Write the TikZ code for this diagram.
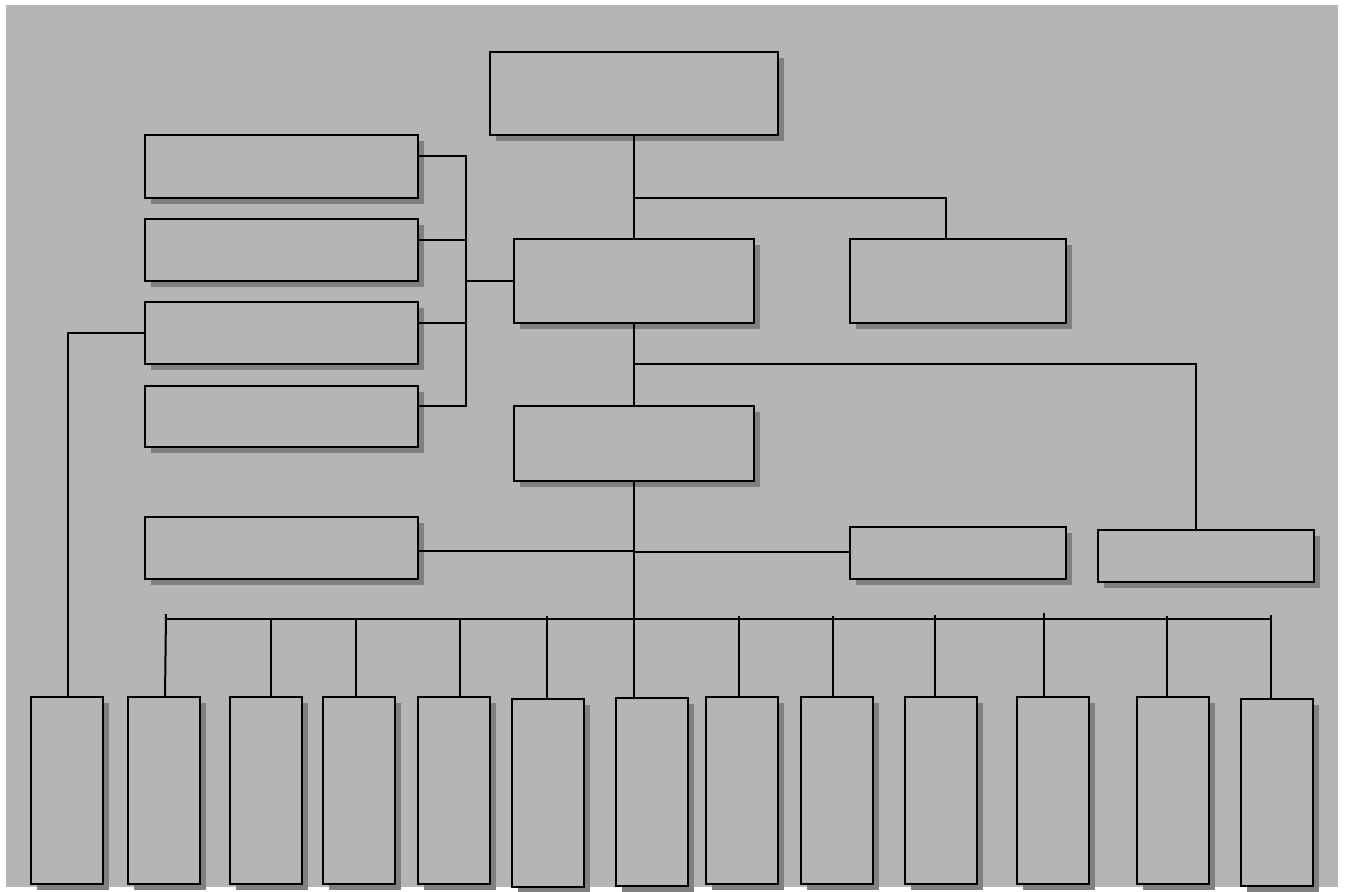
\documentclass[tikz,border=0pt]{standalone}
\usetikzlibrary{fit,shadows}
\definecolor{bggray}{RGB}{181,181,181}
\definecolor{shgray}{RGB}{128,128,128}
\tikzset{
  box/.style={draw=black, line width=1pt, fill=bggray, inner sep=0pt, outer sep=0pt,
    drop shadow={shadow xshift=2.75pt, shadow yshift=-2.75pt, fill=shgray, opacity=1}},
  conn/.style={draw=black, line width=1pt}
}
\newcommand{\bx}[5]{\node[box, fit={(#2,#3) (#4,#5)}] (#1) {};}
\begin{document}
\begin{tikzpicture}[x=0.5pt, y=-0.5pt]
\useasboundingbox (0,0) rectangle (1349,891);
\fill[bggray] (6,5) rectangle (1338,887);
% upper boxes
\bx{top}{490}{52}{778}{135}
\bx{la}{145}{135}{418}{198}
\bx{lb}{145}{219}{418}{281}
\bx{lc}{145}{302}{418}{364}
\bx{ld}{145}{386}{418}{447}
\bx{mb}{514}{239}{754}{323}
\bx{ra}{850}{239}{1066}{323}
\bx{mc}{514}{406}{754}{481}
\bx{le}{145}{517}{418}{579}
\bx{rb}{850}{527}{1066}{579}
\bx{rc}{1098}{530}{1314}{582}
% bottom boxes
\bx{b1}{31}{697}{103}{884}
\bx{b2}{128}{697}{200}{884}
\bx{b3}{230}{697}{302}{884}
\bx{b4}{323}{697}{395}{884}
\bx{b5}{418}{697}{490}{884}
\bx{b6}{512}{699}{584}{887}
\bx{b7}{616}{698}{688}{886}
\bx{b8}{706}{697}{778}{884}
\bx{b9}{801}{697}{873}{884}
\bx{b10}{905}{697}{977}{884}
\bx{b11}{1017}{697}{1089}{884}
\bx{b12}{1137}{697}{1209}{884}
\bx{b13}{1241}{699}{1313}{886}
% coordinates
\coordinate (brk) at (466,281);
\coordinate (j1) at (634,198);
\coordinate (j2) at (634,364);
\coordinate (lx) at (68,333);
\coordinate (busL) at (166,619);
\coordinate (busR) at (1270,619);
\coordinate (t2) at (166,614);
\coordinate (t3) at (271,619);
\coordinate (t4) at (356,619);
\coordinate (t5) at (460,619);
\coordinate (t6) at (547,616);
\coordinate (t7) at (634,619);
\coordinate (t8) at (739,616);
\coordinate (t9) at (833,616);
\coordinate (t10) at (935,615);
\coordinate (t11) at (1044,613);
\coordinate (t12) at (1167,616);
\coordinate (t13) at (1271,615);
% bracket
\draw[conn] (la.east |- 0,156) -| (brk);
\draw[conn] (ld.east |- 0,406) -| (brk);
\draw[conn] (lb.east |- 0,240) -- (brk |- 0,240);
\draw[conn] (lc.east |- 0,323) -- (brk |- 0,323);
\draw[conn] (brk) -- (mb.west |- brk);
% spine
\draw[conn] (top.south -| j1) -- (mb.north -| j1);
\draw[conn] (j1) -| (ra.north -| 946,0);
\draw[conn] (mb.south -| j2) -- (mc.north -| j2);
\draw[conn] (j2) -| (rc.north -| 1196,0);
\draw[conn] (mc.south -| t7) -- (t7);
\draw[conn] (le.east |- 0,551) -- (634,551);
\draw[conn] (634,552) -- (rb.west |- 0,552);
% left long line
\draw[conn] (lc.west |- lx) -- (lx) -- (lx |- b1.north);
% bus and drops
\draw[conn] (busL) -- (busR);
\draw[conn] (t2) -- (165,697);
\foreach \i in {3,...,13} {\draw[conn] (t\i) -- (t\i |- b\i.north);}
\end{tikzpicture}
\end{document}
